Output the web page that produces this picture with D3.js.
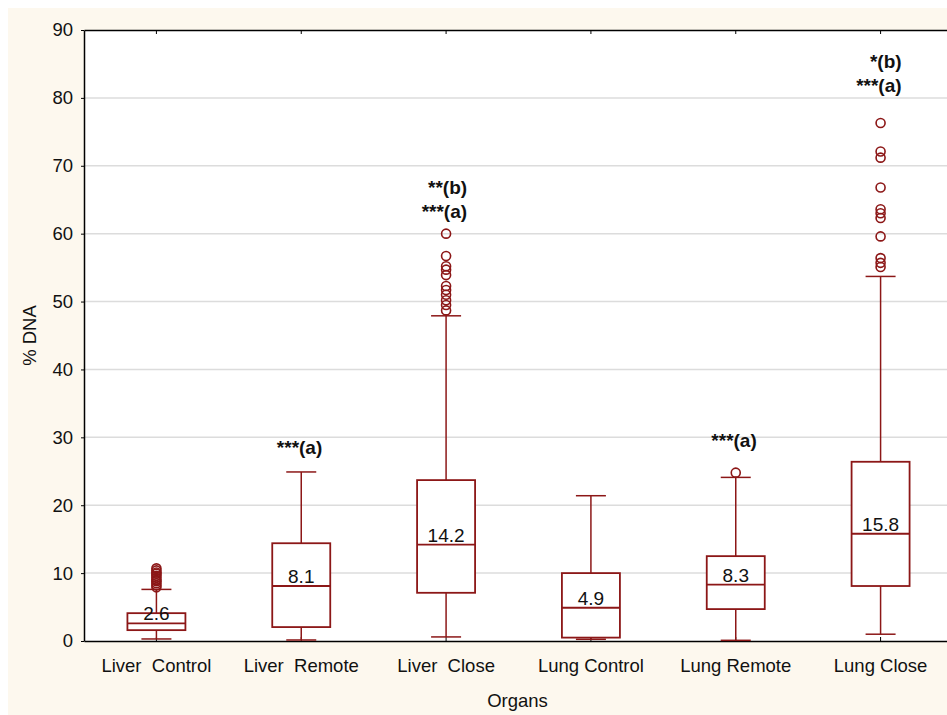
<!DOCTYPE html>
<html>
<head>
<meta charset="utf-8">
<script src="https://cdn.jsdelivr.net/npm/d3@7"></script>
<style>
  body { margin: 0; background: #fff; }
  text { font-family: "Liberation Sans", Arial, sans-serif; }
</style>
</head>
<body>
<div id="chart"></div>
<script>
var width = 947;
var height = 715;
var margin = {top: 30, left: 84, right: -6, bottom: 74};

// categories and box statistics (% DNA)
var organs = ["Liver  Control", "Liver  Remote", "Liver  Close", "Lung Control", "Lung Remote", "Lung Close"];
var lowWhisker = [0.3, 0.15, 0.6, 0.25, 0.1, 1.0];
var q1 = [1.6, 2.05, 7.1, 0.5, 4.7, 8.1];
var medians = [2.6, 8.1, 14.2, 4.9, 8.3, 15.8];
var q3 = [4.1, 14.4, 23.7, 10.0, 12.5, 26.4];
var highWhisker = [7.6, 24.9, 47.9, 21.4, 24.1, 53.7];
var outliers = [
  [7.9, 8.2, 8.5, 8.8, 9.0, 9.3, 9.6, 9.9, 10.1, 10.4, 10.7],
  [],
  [48.7, 49.5, 50.2, 51.0, 51.7, 52.3, 53.9, 54.7, 55.2, 56.7, 60.0],
  [],
  [24.8],
  [55.1, 55.7, 56.4, 59.6, 62.3, 63.0, 63.6, 66.8, 71.2, 72.1, 76.3]
];
var medianLabels = ["2.6", "8.1", "14.2", "4.9", "8.3", "15.8"];

// significance notes: lines of text and the level (in % DNA) of the lowest line
var notes = [[], ["***(a)"], ["**(b)", "***(a)"], [], ["***(a)"], ["*(b)", "***(a)"]];
var noteLevel = [0, 27.6, 62.3, 0, 28.6, 80.8];

var yTicks = [0, 10, 20, 30, 40, 50, 60, 70, 80, 90];

var boxColor = "#8c1717";

var svg = d3.select("#chart")
  .append("svg")
  .attr("width", width)
  .attr("height", height);

svg.append("rect")
  .attr("x", 8).attr("y", 8)
  .attr("width", width - 8).attr("height", height - 8)
  .attr("fill", "#fdf8ee");

var xScale = d3.scaleBand()
  .domain(organs)
  .range([margin.left, width - margin.right]);

var yScale = d3.scaleLinear()
  .domain([0, 90])
  .range([height - margin.bottom, margin.top]);

var plotRight = width - margin.right;

svg.append("rect")
  .attr("x", margin.left).attr("y", margin.top)
  .attr("width", plotRight - margin.left)
  .attr("height", yScale(0) - margin.top)
  .attr("fill", "#fff");

// grid lines
svg.append("g")
  .selectAll("line")
  .data(yTicks.slice(1, -1))
  .enter().append("line")
    .attr("x1", margin.left).attr("x2", plotRight)
    .attr("y1", function(d) { return yScale(d); })
    .attr("y2", function(d) { return yScale(d); })
    .attr("stroke", "#dcdcdc")
    .attr("stroke-width", 1.5);

// axes
var yAxis = svg.append("g")
  .attr("transform", `translate(${margin.left},0)`)
  .call(d3.axisLeft(yScale).tickValues(yTicks).tickSize(3).tickSizeOuter(0).tickPadding(8));
yAxis.select(".domain").attr("stroke", "#000").attr("stroke-width", 1.5);
yAxis.selectAll("text").attr("font-size", 18.5).attr("fill", "#111")
  .style("font-family", "'Liberation Sans', Arial, sans-serif");

var xAxis = svg.append("g")
  .attr("transform", `translate(0,${yScale(0)})`)
  .call(d3.axisBottom(xScale).tickSize(-4).tickSizeOuter(0).tickPadding(18));
xAxis.select(".domain").attr("stroke", "#000").attr("stroke-width", 1.5);
xAxis.selectAll(".tick line").attr("stroke", "#000");
xAxis.selectAll("text").attr("font-size", 18.5).attr("fill", "#111")
  .style("font-family", "'Liberation Sans', Arial, sans-serif")
  .style("white-space", "pre");

var topAxis = svg.append("g")
  .attr("transform", `translate(0,${margin.top})`)
  .call(d3.axisTop(xScale).tickSize(-4).tickSizeOuter(0).tickFormat(""));
topAxis.select(".domain").attr("stroke", "#000").attr("stroke-width", 1.5);

// boxes
var idx = d3.range(organs.length);
var boxW = 58, capW = 30;
var g = svg.append("g");

idx.forEach(function(i) {
  var cx = xScale(organs[i]) + xScale.bandwidth() / 2;
  var grp = g.append("g").attr("stroke", boxColor).attr("fill", "none");
  grp.append("line")
    .attr("x1", cx).attr("x2", cx)
    .attr("y1", yScale(highWhisker[i])).attr("y2", yScale(q3[i]))
    .attr("stroke-width", 1.5);
  grp.append("line")
    .attr("x1", cx).attr("x2", cx)
    .attr("y1", yScale(q1[i])).attr("y2", yScale(lowWhisker[i]))
    .attr("stroke-width", 1.5);
  [highWhisker[i], lowWhisker[i]].forEach(function(v) {
    grp.append("line")
      .attr("x1", cx - capW / 2).attr("x2", cx + capW / 2)
      .attr("y1", yScale(v)).attr("y2", yScale(v))
      .attr("stroke-width", 1.5);
  });
  grp.append("rect")
    .attr("x", cx - boxW / 2).attr("width", boxW)
    .attr("y", yScale(q3[i]))
    .attr("height", yScale(q1[i]) - yScale(q3[i]))
    .attr("fill", "#fff")
    .attr("stroke-width", 1.8);
  grp.append("line")
    .attr("x1", cx - boxW / 2).attr("x2", cx + boxW / 2)
    .attr("y1", yScale(medians[i])).attr("y2", yScale(medians[i]))
    .attr("stroke-width", 1.8);
  grp.selectAll("circle")
    .data(outliers[i])
    .enter().append("circle")
      .attr("cx", cx)
      .attr("cy", function(d) { return yScale(d); })
      .attr("r", 4.5)
      .attr("stroke-width", 1.6);

  g.append("text")
    .attr("x", cx)
    .attr("y", yScale(medians[i]) - 3)
    .attr("text-anchor", "middle")
    .attr("font-size", 19)
    .attr("fill", "#111")
    .text(medianLabels[i]);

  notes[i].forEach(function(t, k) {
    var n = notes[i].length;
    g.append("text")
      .attr("x", cx + 21)
      .attr("y", yScale(noteLevel[i]) - (n - 1 - k) * 24)
      .attr("text-anchor", "end")
      .attr("font-size", 19)
      .attr("font-weight", "bold")
      .attr("fill", "#111")
      .text(t);
  });
});

svg.append("text")
  .attr("x", (margin.left + width) / 2 + 2)
  .attr("y", 707)
  .attr("text-anchor", "middle")
  .attr("font-size", 18.5)
  .attr("fill", "#111")
  .text("Organs");

svg.append("text")
  .attr("transform", "rotate(-90)")
  .attr("x", -yScale(45))
  .attr("y", 36)
  .attr("text-anchor", "middle")
  .attr("font-size", 18.5)
  .attr("fill", "#111")
  .text("% DNA");
</script>
</body>
</html>
